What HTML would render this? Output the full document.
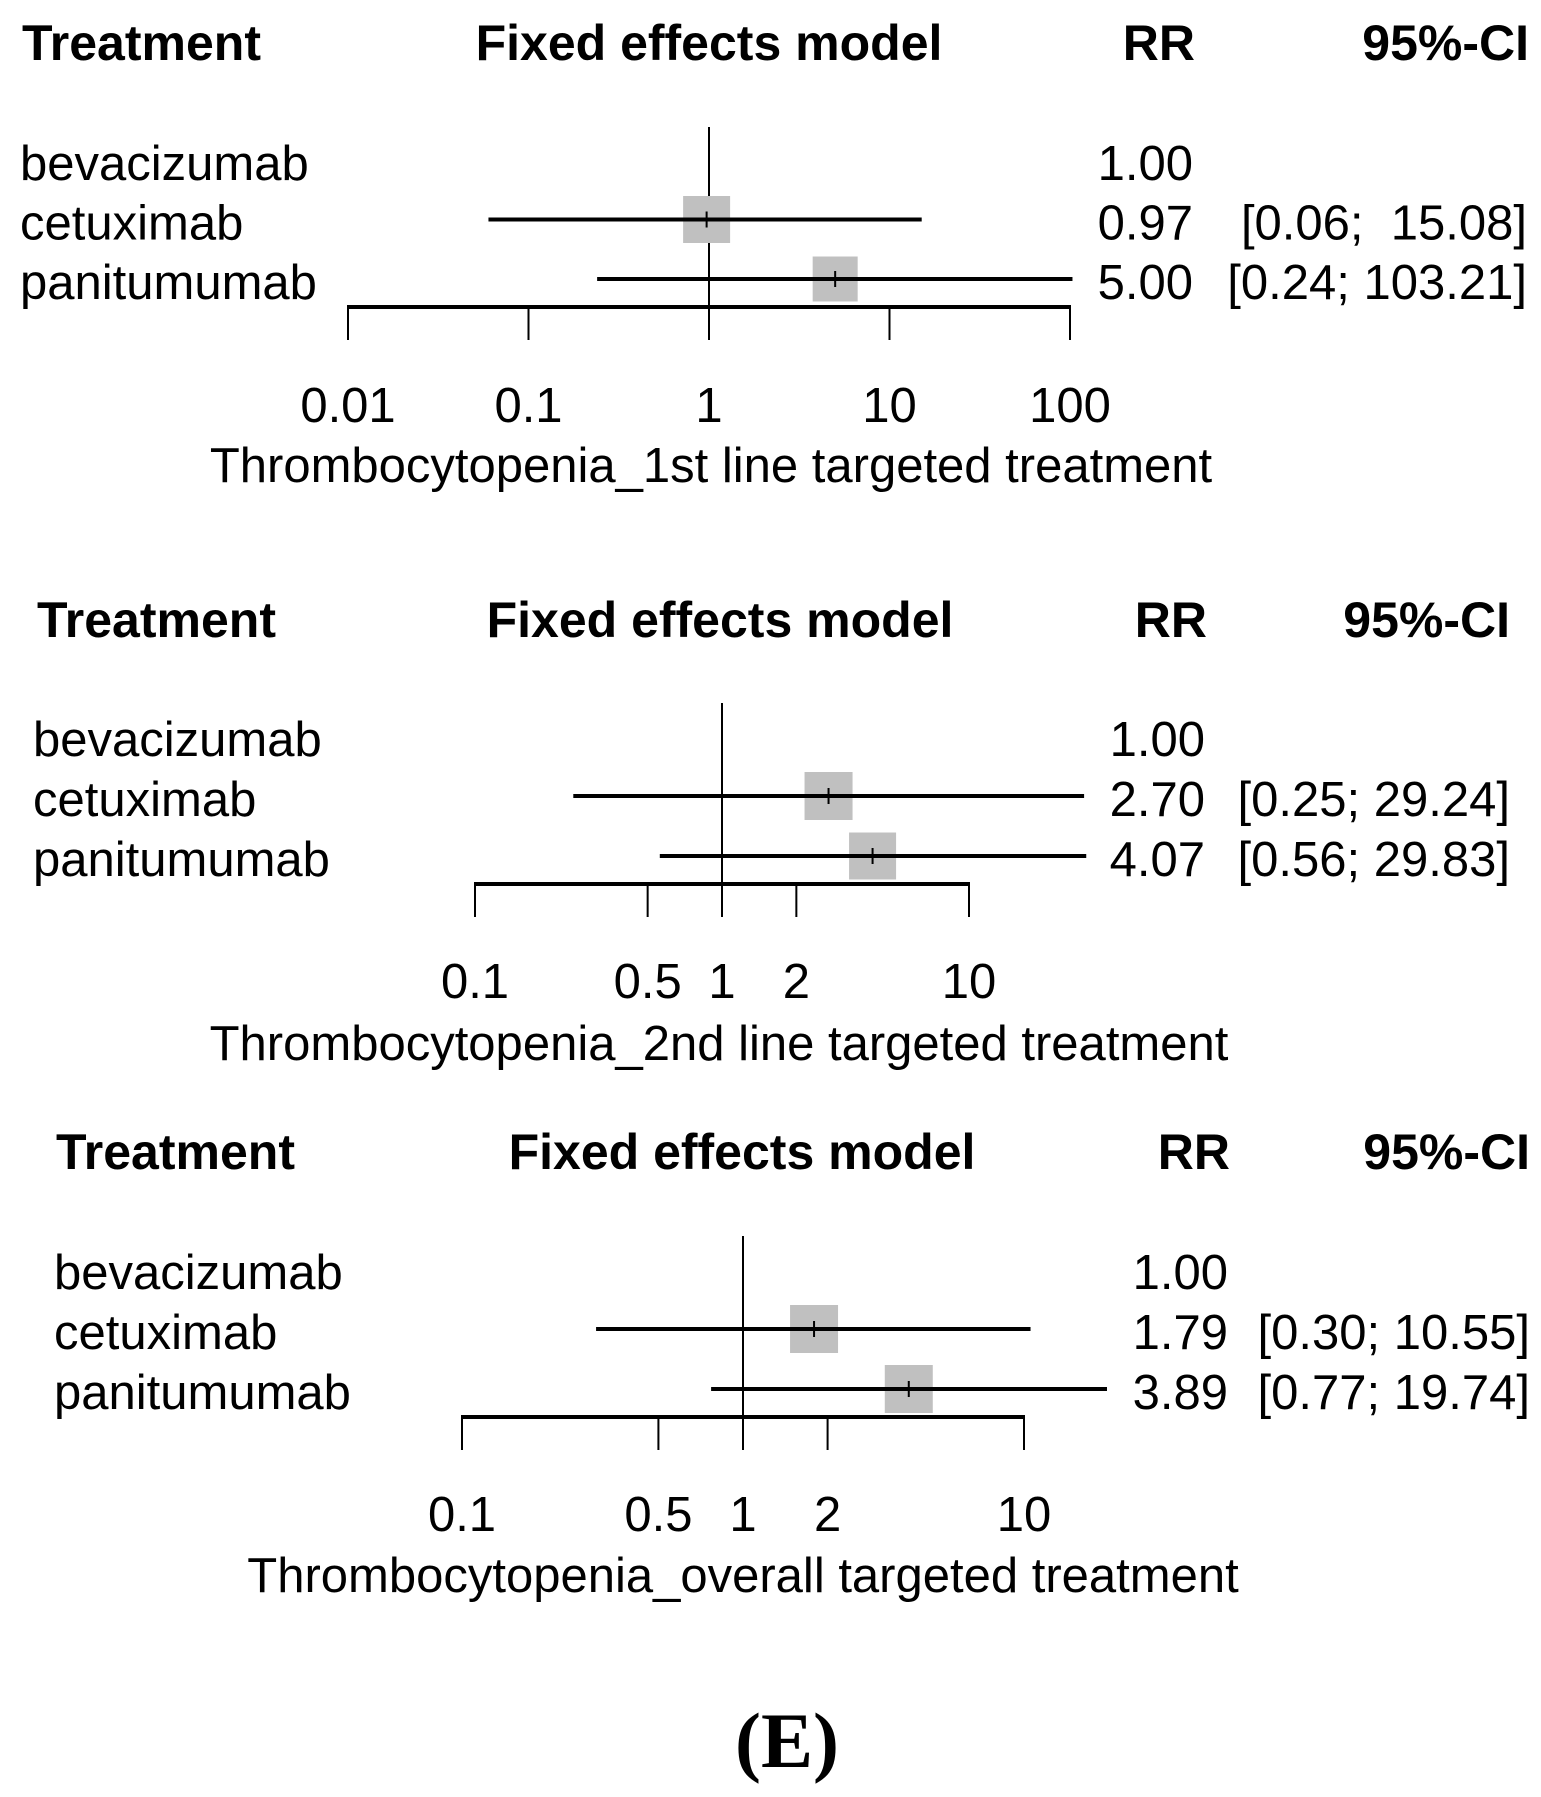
<!DOCTYPE html>
<html><head><meta charset="utf-8"><style>
html,body{margin:0;padding:0;background:#fff;}
svg{display:block;}
text{font-family:"Liberation Sans",Arial,sans-serif;fill:#000;white-space:pre;}
</style></head><body>
<svg id="fig" width="1541" height="1797" viewBox="0 0 1541 1797" xmlns="http://www.w3.org/2000/svg">
<text x="787" y="1767" text-anchor="middle" style="font-family:'Liberation Serif',serif;font-weight:bold;font-size:78px">(E)</text>
</svg>
<script>
// ---- data ----
const treatments = ["bevacizumab", "cetuximab", "panitumumab"];
const p1RR = [1.00, 0.97, 5.00];
const p1Lo = [null, 0.06, 0.24];
const p1Hi = [null, 15.08, 103.21];
const p1RRText = ["1.00", "0.97", "5.00"];
const p1CIText = ["", "[0.06;  15.08]", "[0.24; 103.21]"];
const p1Weights = [0, 47, 45];
const p1Ticks = [0.01, 0.1, 1, 10, 100];
const p1TickLabels = ["0.01", "0.1", "1", "10", "100"];
const p1Title = "Thrombocytopenia_1st line targeted treatment";

const p2RR = [1.00, 2.70, 4.07];
const p2Lo = [null, 0.25, 0.56];
const p2Hi = [null, 29.24, 29.83];
const p2RRText = ["1.00", "2.70", "4.07"];
const p2CIText = ["", "[0.25; 29.24]", "[0.56; 29.83]"];
const p2Weights = [0, 48, 47];
const p2Ticks = [0.1, 0.5, 1, 2, 10];
const p2TickLabels = ["0.1", "0.5", "1", "2", "10"];
const p2Title = "Thrombocytopenia_2nd line targeted treatment";

const p3RR = [1.00, 1.79, 3.89];
const p3Lo = [null, 0.30, 0.77];
const p3Hi = [null, 10.55, 19.74];
const p3RRText = ["1.00", "1.79", "3.89"];
const p3CIText = ["", "[0.30; 10.55]", "[0.77; 19.74]"];
const p3Weights = [0, 48, 48];
const p3Ticks = [0.1, 0.5, 1, 2, 10];
const p3TickLabels = ["0.1", "0.5", "1", "2", "10"];
const p3Title = "Thrombocytopenia_overall targeted treatment";

const NS = "http://www.w3.org/2000/svg";
const svg = document.getElementById("fig");
function mk(tag, attrs, parent) {
  const e = document.createElementNS(NS, tag);
  for (const k in attrs) e.setAttribute(k, attrs[k]);
  (parent || svg).appendChild(e);
  return e;
}
function txt(parent, x, y, s, anchor, bold, name) {
  const t = mk("text", {x: x, y: y, "text-anchor": anchor, "font-size": bold ? 50 : 49, "font-weight": bold ? "bold" : "normal"}, parent);
  t.textContent = s;
  
  
  return t;
}

function panel(id, L, rr, lo, hi, rrT, ciT, w, ticks, tickLabels, title) {
  const g = mk("g", {});
  
  
  const sx = v => L.x1 + Math.log10(v) * L.ppd;
  txt(g, L.treatX, L.headY, "Treatment", "start", true, "header-treatment");
  txt(g, L.fixedX, L.headY, "Fixed effects model", "middle", true, "header-fixed-effects");
  txt(g, L.rrHeadEnd, L.headY, "RR", "end", true, "header-rr");
  txt(g, L.ciHeadEnd, L.headY, "95%-CI", "end", true, "header-ci");
  const ref = mk("line", {x1: sx(1), x2: sx(1), y1: L.refTop, y2: L.axisY + L.tickLen, stroke: "#000", "stroke-width": 2}, g);
  
  
  for (let i = 0; i < treatments.length; i++) {
    const y = L.row0 + i * L.rowGap;
    txt(g, L.labelX, y + 20, treatments[i], "start", false, "row-label-" + treatments[i]);
    txt(g, L.rrEnd, y + 20, rrT[i], "end", false, "rr-value-" + treatments[i]);
    if (ciT[i]) txt(g, L.ciEnd, y + 20, ciT[i], "end", false, "ci-value-" + treatments[i]);
    if (lo[i] !== null) {
      const s = w[i];
      const sq = mk("rect", {x: sx(rr[i]) - s / 2, y: y - s / 2, width: s, height: s, fill: "#c0c0c0"}, g);
      
      
      const ci = mk("line", {x1: sx(lo[i]), x2: sx(hi[i]), y1: y, y2: y, stroke: "#000", "stroke-width": 4}, g);
      
      
      const pt = mk("line", {x1: sx(rr[i]), x2: sx(rr[i]), y1: y - 8, y2: y + 8, stroke: "#000", "stroke-width": 2}, g);
      
      
    }
  }
  const ax = mk("line", {x1: sx(ticks[0]) - 1, x2: sx(ticks[ticks.length - 1]) + 1, y1: L.axisY, y2: L.axisY, stroke: "#000", "stroke-width": 4}, g);
  
  
  ticks.forEach((t, i) => {
    const tl = mk("line", {x1: sx(t), x2: sx(t), y1: L.axisY, y2: L.axisY + L.tickLen, stroke: "#000", "stroke-width": 2}, g);
    
    
    txt(g, sx(t), L.tickLabY, tickLabels[i], "middle", false, "x-tick-label");
  });
  txt(g, L.titleX, L.titleY, title, "middle", false, "x-axis-title");
}

panel("panel-1st-line", {headY: 60, treatX: 22, fixedX: 709, rrHeadEnd: 1195, ciHeadEnd: 1529,
  labelX: 20, row0: 160, rowGap: 59.5, refTop: 127, axisY: 307, tickLen: 33, x1: 709, ppd: 180.5,
  rrEnd: 1193, ciEnd: 1527, tickLabY: 422, titleY: 482, titleX: 711},
  p1RR, p1Lo, p1Hi, p1RRText, p1CIText, p1Weights, p1Ticks, p1TickLabels, p1Title);

panel("panel-2nd-line", {headY: 637, treatX: 37, fixedX: 720, rrHeadEnd: 1207, ciHeadEnd: 1510,
  labelX: 33, row0: 736, rowGap: 60, refTop: 703, axisY: 884, tickLen: 33, x1: 722, ppd: 247,
  rrEnd: 1205, ciEnd: 1510, tickLabY: 998, titleY: 1060, titleX: 719},
  p2RR, p2Lo, p2Hi, p2RRText, p2CIText, p2Weights, p2Ticks, p2TickLabels, p2Title);

panel("panel-overall", {headY: 1169, treatX: 56, fixedX: 742, rrHeadEnd: 1230, ciHeadEnd: 1530,
  labelX: 54, row0: 1269, rowGap: 60, refTop: 1236, axisY: 1417, tickLen: 33, x1: 743, ppd: 281,
  rrEnd: 1228, ciEnd: 1530, tickLabY: 1531, titleY: 1592, titleX: 743},
  p3RR, p3Lo, p3Hi, p3RRText, p3CIText, p3Weights, p3Ticks, p3TickLabels, p3Title);
</script>
</body></html>
